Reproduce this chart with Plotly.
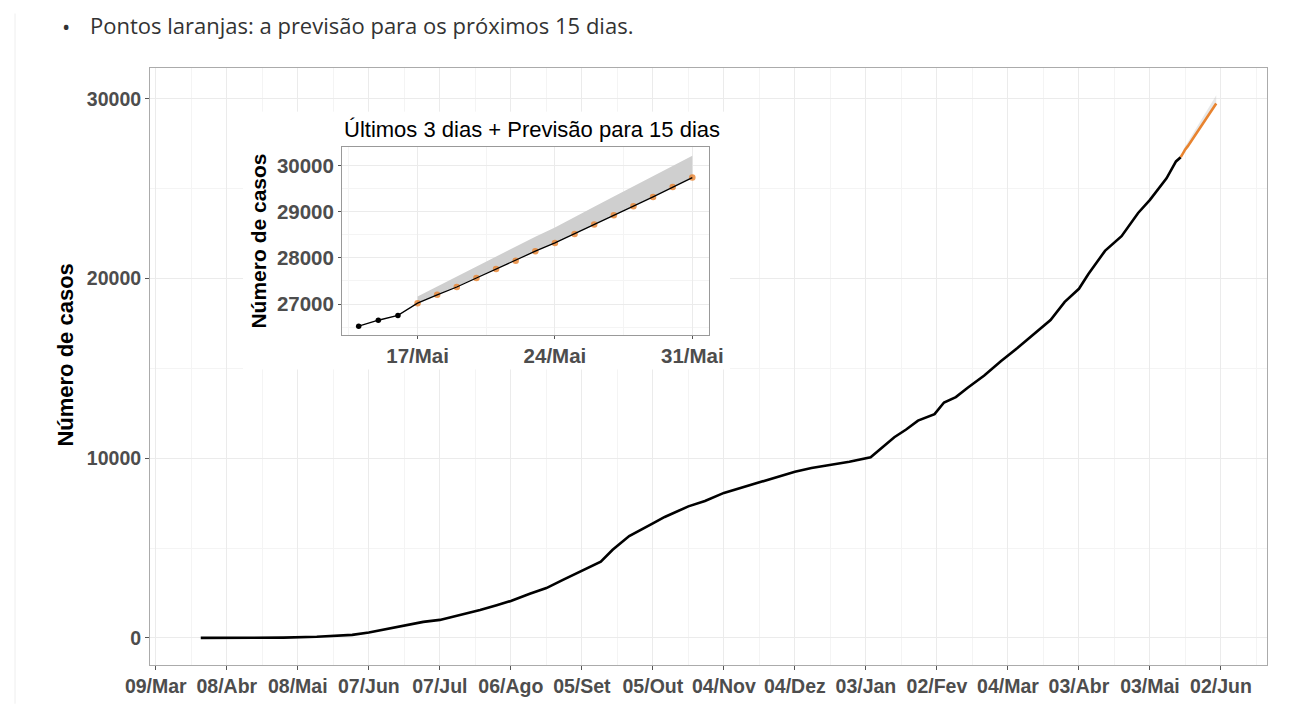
import plotly.graph_objects as go
import pandas as pd

# ---------------- data ----------------
obs_dates = [
    "2020-03-28", "2020-04-15", "2020-05-02", "2020-05-16", "2020-05-31", "2020-06-07",
    "2020-06-14", "2020-06-22", "2020-06-30", "2020-07-07", "2020-07-17", "2020-07-24",
    "2020-07-31", "2020-08-06", "2020-08-14", "2020-08-21", "2020-08-28", "2020-09-05",
    "2020-09-13", "2020-09-18", "2020-09-25", "2020-10-05", "2020-10-10", "2020-10-20",
    "2020-10-27", "2020-11-04", "2020-11-11", "2020-11-19", "2020-11-26", "2020-12-04",
    "2020-12-11", "2020-12-19", "2020-12-27", "2021-01-05", "2021-01-10", "2021-01-15",
    "2021-01-20", "2021-01-25", "2021-02-01", "2021-02-05", "2021-02-10", "2021-02-15",
    "2021-02-22", "2021-03-01", "2021-03-08", "2021-03-15", "2021-03-22", "2021-03-28",
    "2021-04-03", "2021-04-07", "2021-04-14", "2021-04-21", "2021-04-28", "2021-05-03",
    "2021-05-10", "2021-05-14", "2021-05-15", "2021-05-16",
]
obs_values = [
    0, 5, 15, 60, 165, 300,
    480, 715, 890, 1000, 1300, 1550,
    1815, 2055, 2460, 2770, 3230, 3740,
    4240, 4900, 5670, 6370, 6730, 7320,
    7620, 8070, 8350, 8640, 8950, 9245,
    9450, 9615, 9800, 10050, 10600, 11170,
    11600, 12090, 12455, 13100, 13400, 13925,
    14600, 15395, 16130, 16900, 17690, 18700,
    19430, 20250, 21540, 22360, 23650, 24380,
    25580, 26520, 26650, 26755,
]

fc_dates = [
    "2021-05-17", "2021-05-18", "2021-05-19", "2021-05-20", "2021-05-21",
    "2021-05-22", "2021-05-23", "2021-05-24", "2021-05-25", "2021-05-26",
    "2021-05-27", "2021-05-28", "2021-05-29", "2021-05-30", "2021-05-31",
]
fc_values = [27020, 27200, 27370, 27565, 27760, 27940, 28145, 28325,
             28520, 28725, 28925, 29120, 29320, 29535, 29740]
fc_upper = [27165, 27380, 27600, 27815, 28030, 28250, 28460, 28660,
            28890, 29110, 29330, 29550, 29770, 29990, 30210]

main_tick_dates = ["2020-03-09", "2020-04-08", "2020-05-08", "2020-06-07", "2020-07-07",
                   "2020-08-06", "2020-09-05", "2020-10-05", "2020-11-04", "2020-12-04",
                   "2021-01-03", "2021-02-02", "2021-03-04", "2021-04-03", "2021-05-03",
                   "2021-06-02"]
main_tick_labels = ["09/Mar", "08/Abr", "08/Mai", "07/Jun", "07/Jul", "06/Ago", "05/Set",
                    "05/Out", "04/Nov", "04/Dez", "03/Jan", "02/Fev", "04/Mar", "03/Abr",
                    "03/Mai", "02/Jun"]
main_y_ticks = [0, 10000, 20000, 30000]

inset_tick_dates = ["2021-05-17", "2021-05-24", "2021-05-31"]
inset_tick_labels = ["17/Mai", "24/Mai", "31/Mai"]
inset_y_ticks = [27000, 28000, 29000, 30000]

bullet_text = "Pontos laranjas: a previsão para os próximos 15 dias."
inset_title = "Últimos 3 dias + Previsão para 15 dias"
y_title = "Número de casos"

ORANGE = "#E8832F"
FONT = "Liberation Sans, Arial, sans-serif"

# ---------------- ranges (ggplot-like 5% expansion) ----------------
def date_range(d0, d1):
    a, b = pd.Timestamp(d0), pd.Timestamp(d1)
    s = b - a
    return [(a - 0.05 * s).isoformat(), (b + 0.05 * s).isoformat()]

def num_range(lo, hi):
    r = hi - lo
    return [lo - 0.05 * r, hi + 0.05 * r]

main_xr = date_range(obs_dates[0], fc_dates[-1])
main_yr = num_range(min(obs_values), max(fc_upper))
ins_dates = obs_dates[-3:]
ins_values = obs_values[-3:]
ins_xr = date_range(ins_dates[0], fc_dates[-1])
ins_yr = num_range(min(ins_values), max(fc_upper))

def mid_dates(ds):
    ts = [pd.Timestamp(d) for d in ds]
    out = [(ts[0] - (ts[1] - ts[0]) / 2)]
    out += [a + (b - a) / 2 for a, b in zip(ts[:-1], ts[1:])]
    out += [ts[-1] + (ts[-1] - ts[-2]) / 2]
    return [t.isoformat() for t in out]

def mid_nums(vs):
    step = vs[1] - vs[0]
    return [vs[0] - step / 2] + [(a + b) / 2 for a, b in zip(vs[:-1], vs[1:])] + [vs[-1] + step / 2]

fig = go.Figure()

# ---------------- main plot ----------------
fig.add_trace(go.Scatter(x=fc_dates, y=fc_values, mode="lines", line=dict(width=0),
                         showlegend=False, hoverinfo="skip"))
fig.add_trace(go.Scatter(x=fc_dates, y=fc_upper, mode="lines", line=dict(width=0),
                         fill="tonexty", fillcolor="rgba(190,190,190,0.35)",
                         showlegend=False, hoverinfo="skip"))
fig.add_trace(go.Scatter(x=obs_dates, y=obs_values, mode="lines",
                         line=dict(color="black", width=2.6), showlegend=False))
fig.add_trace(go.Scatter(x=[obs_dates[-1]] + fc_dates, y=[obs_values[-1]] + fc_values,
                         mode="lines", line=dict(color=ORANGE, width=2.6), showlegend=False))

# ---------------- white backdrop subplot (hides main grid behind inset) ----------------
fig.add_trace(go.Scatter(x=[0], y=[0], mode="markers", marker=dict(size=1, opacity=0),
                         xaxis="x2", yaxis="y2", showlegend=False, hoverinfo="skip"))

# ---------------- inset ----------------
fig.add_trace(go.Scatter(x=fc_dates, y=fc_values, mode="lines", line=dict(width=0),
                         xaxis="x3", yaxis="y3", showlegend=False, hoverinfo="skip"))
fig.add_trace(go.Scatter(x=fc_dates, y=fc_upper, mode="lines", line=dict(width=0),
                         fill="tonexty", fillcolor="#CFCFCF",
                         xaxis="x3", yaxis="y3", showlegend=False, hoverinfo="skip"))
fig.add_trace(go.Scatter(x=fc_dates, y=fc_values, mode="markers",
                         marker=dict(color=ORANGE, size=6.5, opacity=0.8),
                         xaxis="x3", yaxis="y3", showlegend=False))
fig.add_trace(go.Scatter(x=ins_dates + fc_dates, y=ins_values + fc_values, mode="lines",
                         line=dict(color="black", width=1.3),
                         xaxis="x3", yaxis="y3", showlegend=False))
fig.add_trace(go.Scatter(x=ins_dates, y=ins_values, mode="markers",
                         marker=dict(color="black", size=5.5),
                         xaxis="x3", yaxis="y3", showlegend=False))

# page body has an 8px margin: figure pixel = reference pixel - 8
OFF = 8
W, H = 1316 - OFF, 709 - OFF
L, T = 150 - OFF, 68 - OFF
R = W - (1267 - OFF)
B = H - (670 - OFF)
pw, ph = W - L - R, H - T - B

def px(x):
    return (x - OFF - L) / pw

def py(y):
    return (H - B - (y - OFF)) / ph

tickfont = dict(family=FONT, size=19.5, color="#4D4D4D", weight="bold")
inset_tickfont = dict(family=FONT, size=20.5, color="#4D4D4D", weight="bold")

fig.update_layout(
    width=W, height=H,
    margin=dict(l=L, r=R, t=T, b=B, pad=0),
    paper_bgcolor="white", plot_bgcolor="white",
    showlegend=False,
    xaxis=dict(
        domain=[0, 1], range=main_xr, type="date",
        tickmode="array", tickvals=main_tick_dates, ticktext=main_tick_labels,
        ticks="outside", ticklen=4, tickwidth=1, tickcolor="#555555",
        showline=True, linecolor="#ABABAB", linewidth=1, mirror=True,
        showgrid=True, gridcolor="#EBEBEB", gridwidth=1, zeroline=False,
        minor=dict(tickmode="array", tickvals=mid_dates(main_tick_dates), showgrid=True,
                   gridcolor="#F4F4F4", gridwidth=1, ticks=""),
        tickfont=tickfont,
    ),
    yaxis=dict(
        domain=[0, 1], range=main_yr,
        tickmode="array", tickvals=main_y_ticks, ticktext=[str(v) for v in main_y_ticks],
        ticks="outside", ticklen=4, tickwidth=1, tickcolor="#555555",
        showline=True, linecolor="#ABABAB", linewidth=1, mirror=True,
        showgrid=True, gridcolor="#EBEBEB", gridwidth=1, zeroline=False,
        minor=dict(tickmode="array", tickvals=mid_nums(main_y_ticks), showgrid=True,
                   gridcolor="#F4F4F4", gridwidth=1, ticks=""),
        tickfont=tickfont,
    ),
    xaxis2=dict(domain=[px(243), px(730)], anchor="y2", range=[-1, 1], visible=False),
    yaxis2=dict(domain=[py(372), py(112)], anchor="x2", range=[-1, 1], visible=False),
    xaxis3=dict(
        domain=[px(342), px(709)], anchor="y3", range=ins_xr, type="date",
        tickmode="array", tickvals=inset_tick_dates, ticktext=inset_tick_labels,
        ticks="outside", ticklen=3, tickwidth=1, tickcolor="#555555",
        showline=True, linecolor="#999999", linewidth=1, mirror=True,
        showgrid=True, gridcolor="#EBEBEB", gridwidth=1, zeroline=False,
        minor=dict(tickmode="array", tickvals=mid_dates(inset_tick_dates), showgrid=True,
                   gridcolor="#F4F4F4", gridwidth=1, ticks=""),
        tickfont=inset_tickfont,
    ),
    yaxis3=dict(
        domain=[py(337), py(148)], anchor="x3", range=ins_yr,
        tickmode="array", tickvals=inset_y_ticks, ticktext=[str(v) for v in inset_y_ticks],
        ticks="outside", ticklen=3, tickwidth=1, tickcolor="#555555",
        showline=True, linecolor="#999999", linewidth=1, mirror=True,
        showgrid=True, gridcolor="#EBEBEB", gridwidth=1, zeroline=False,
        minor=dict(tickmode="array", tickvals=mid_nums(inset_y_ticks), showgrid=True,
                   gridcolor="#F4F4F4", gridwidth=1, ticks=""),
        tickfont=inset_tickfont,
    ),
    shapes=[
        dict(type="line", xref="paper", yref="paper", x0=px(15), x1=px(15),
             y0=py(13), y1=py(709), line=dict(color="#EEEEEE", width=1)),
    ],
    annotations=[
        dict(text="•", x=px(66), y=py(26), xref="paper", yref="paper",
             xanchor="center", yanchor="middle", showarrow=False,
             font=dict(family="Open Sans, sans-serif", size=22, color="#333333")),
        dict(text=bullet_text, x=px(88), y=py(25), xref="paper", yref="paper",
             xanchor="left", yanchor="middle", showarrow=False,
             font=dict(family="Open Sans, sans-serif", size=22, color="#333333")),
        dict(text=inset_title, x=px(342), y=py(130), xref="paper", yref="paper",
             xanchor="left", yanchor="middle", showarrow=False,
             font=dict(family=FONT, size=22, color="black")),
        dict(text=y_title, x=px(259), y=py(243), xref="paper", yref="paper",
             xanchor="center", yanchor="middle", showarrow=False, textangle=-90,
             font=dict(family=FONT, size=21, color="black", weight="bold")),
        dict(text=y_title, x=px(66), y=py(358), xref="paper", yref="paper",
             xanchor="center", yanchor="middle", showarrow=False, textangle=-90,
             font=dict(family=FONT, size=22, color="black", weight="bold")),
    ],
)

fig.write_html("out.html")
